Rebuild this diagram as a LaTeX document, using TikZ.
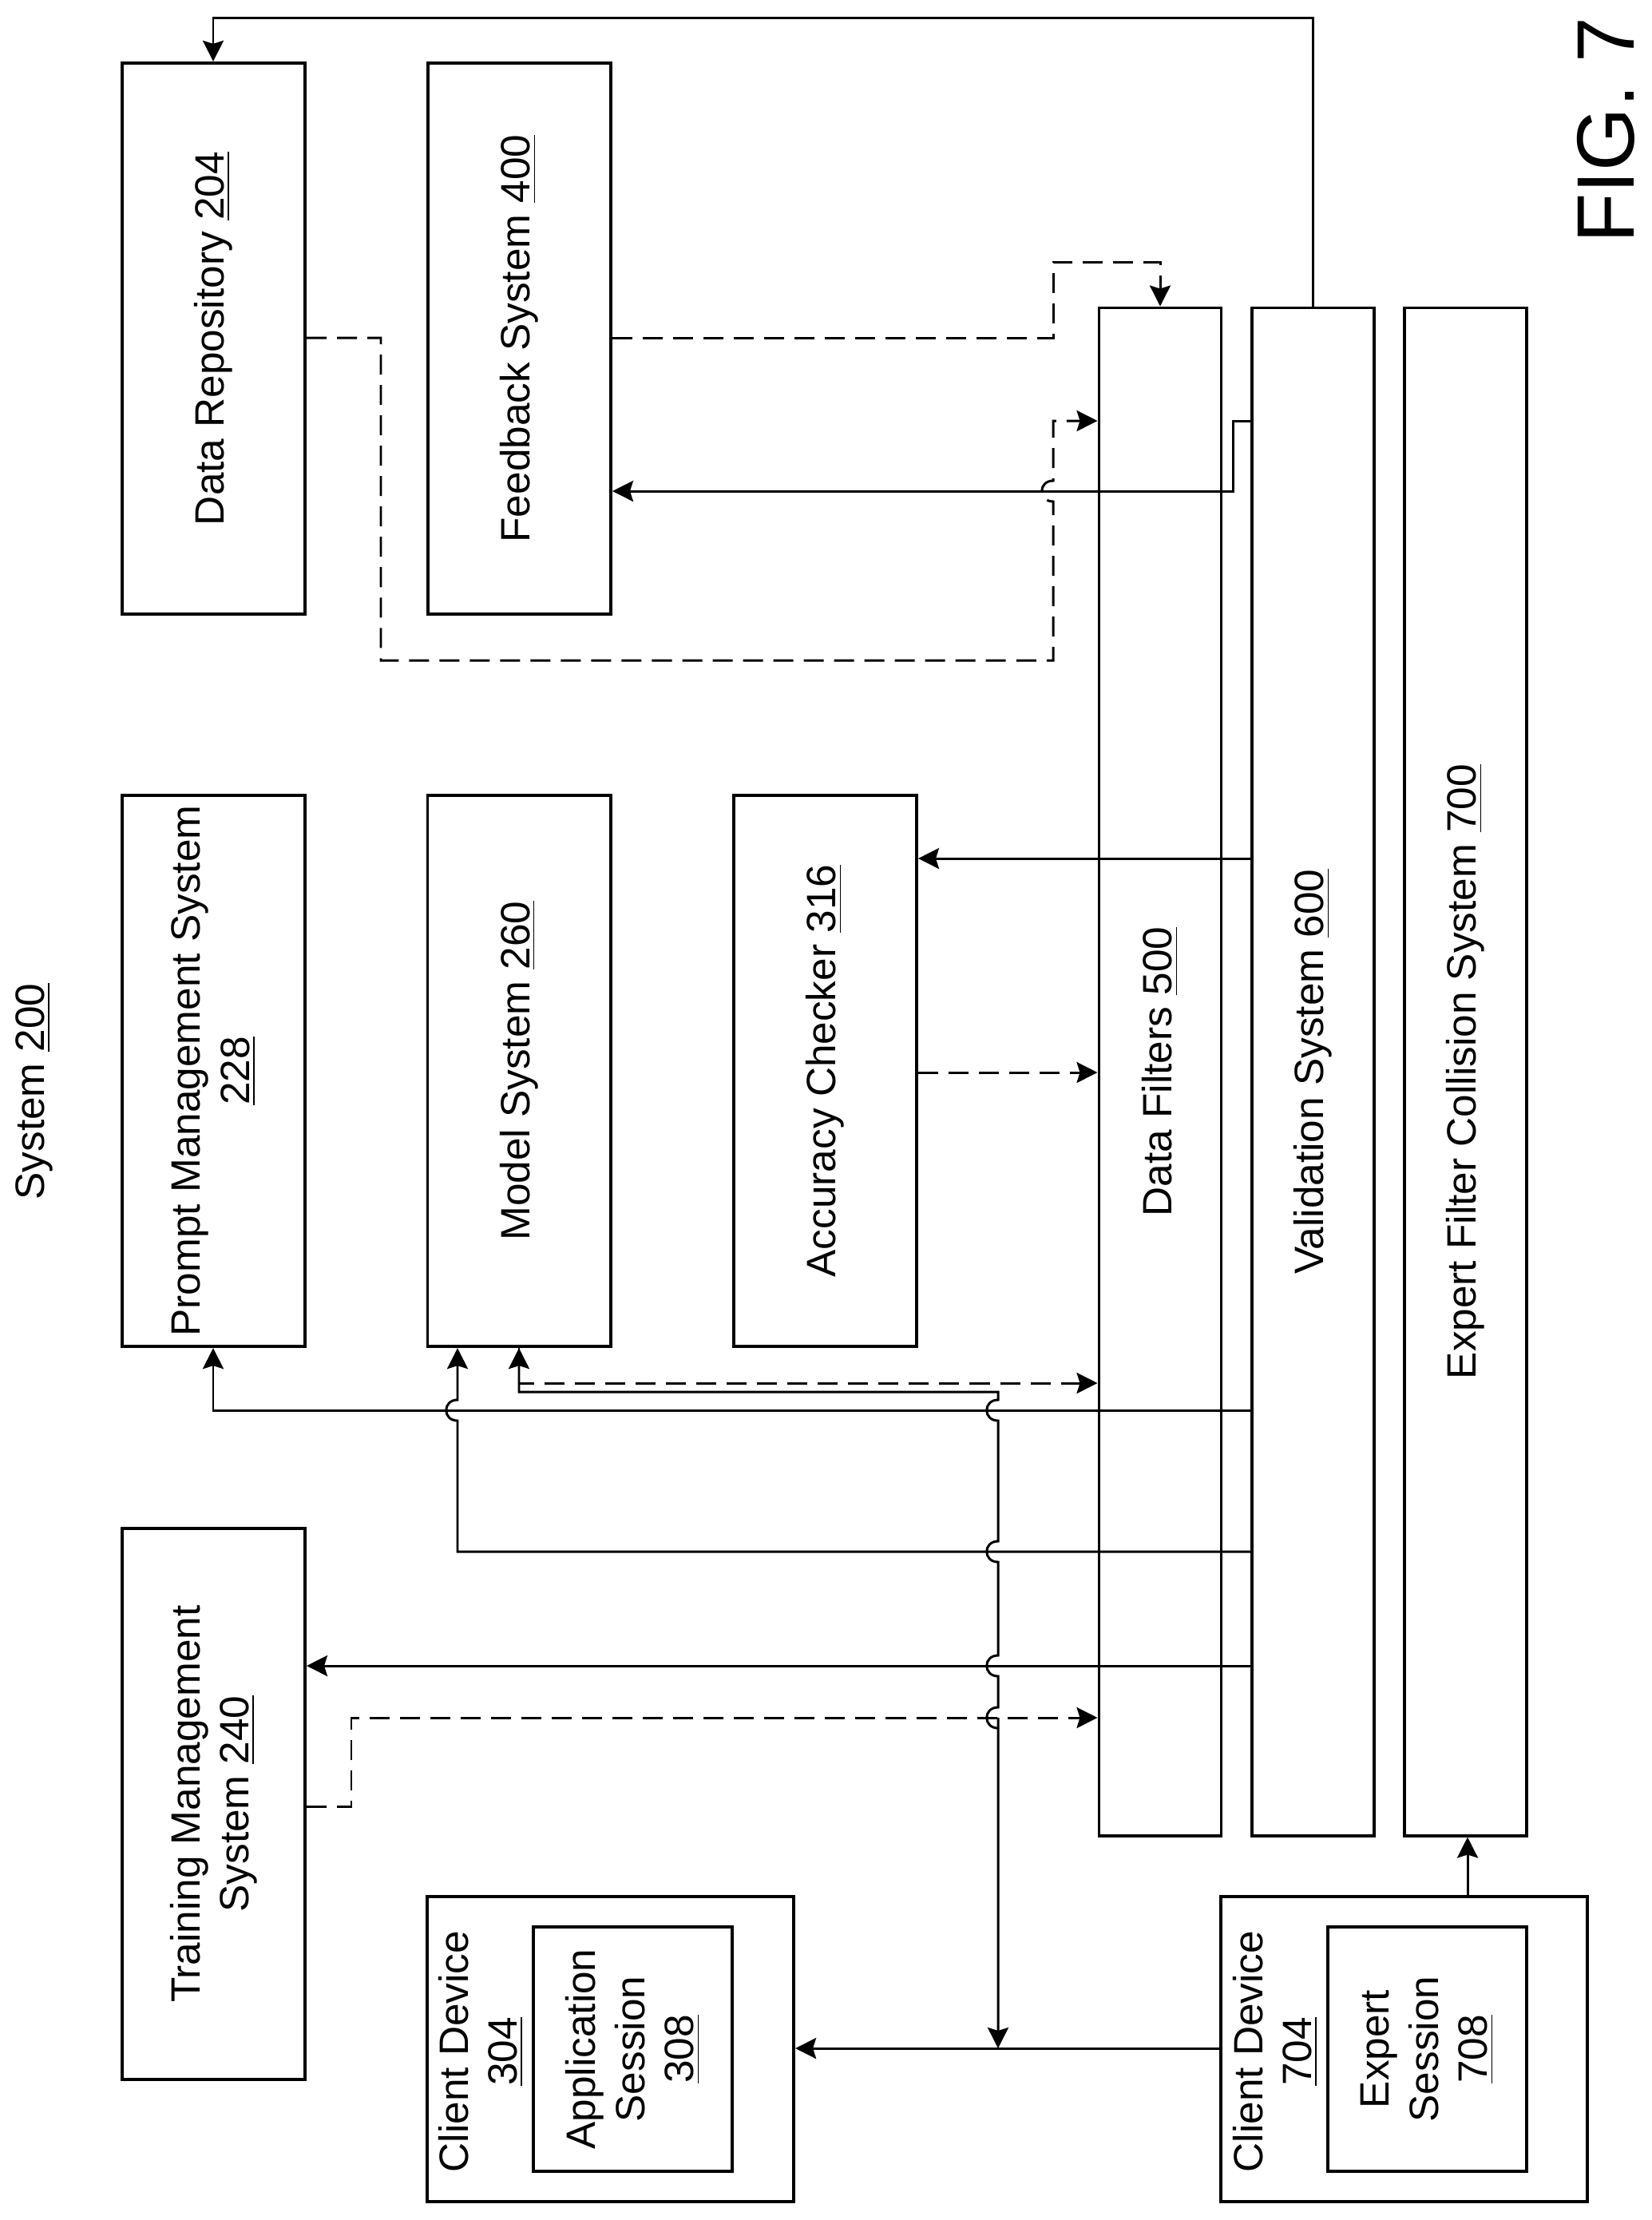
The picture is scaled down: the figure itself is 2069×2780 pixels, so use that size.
\documentclass[tikz,border=0pt]{standalone}
\usepackage{fontspec}
\setmainfont{Liberation Sans}
\usetikzlibrary{arrows.meta}

% hop of a vertical line over a horizontal one
\newcommand{\hop}[2]{-- (#1,#2+13) .. controls (#1-19,#2+13) and (#1-19,#2-13) .. (#1,#2-13)}

\begin{document}
\begin{tikzpicture}[
        x=0.01cm, y=-0.01cm,
        every node/.style={font=\fontsize{14.6}{17.5}\selectfont, align=center, inner sep=0pt},
        box/.style={rectangle, draw, line width=1.1pt, rotate=90},
        widebox/.style={box, minimum width=6.90cm, minimum height=2.29cm},
        tallbox/.style={box, minimum width=19.12cm, minimum height=1.53cm},
        devbox/.style={box, minimum width=3.82cm, minimum height=4.59cm},
        sessbox/.style={box, minimum width=3.06cm, minimum height=2.49cm},
        txt/.style={rotate=90},
        arrow/.style={->, >={Stealth[length=2.6mm,width=2.6mm,inset=0.4mm]}, line width=0.85pt},
        dasharrow/.style={arrow, dash pattern=on 2.5mm off 1.3mm}
    ]
    \useasboundingbox (0,0) rectangle (2069,2780);

% Top row
    \node[widebox] (repo) at (267.5,424) {Data Repository \underline{204}};
    \node[widebox] (feedback) at (650.5,424) {Feedback System \underline{400}};

% Middle row
    \node[widebox] (prompt) at (267.5,1341) {Prompt Management System\\\underline{228}};
    \node[widebox] (model) at (650,1341) {Model System \underline{260}};
    \node[widebox] (accuracy) at (1033.5,1341) {Accuracy Checker \underline{316}};

% Bottom row
    \node[widebox] (training) at (267.5,2259) {Training Management\\System \underline{240}};
    \node[devbox] (client) at (764.5,2566) {};
    \node[sessbox] (appsess) at (792.5,2566) {Application\\Session\\\underline{308}};
    \node[devbox] (expert) at (1758.5,2566) {};
    \node[sessbox] (expsess) at (1787.5,2566) {Expert\\Session\\\underline{708}};

% Long bars
    \node[tallbox] (filters) at (1453,1342) {Data Filters \underline{500}};
    \node[tallbox] (validation) at (1644.5,1342) {Validation System \underline{600}};
    \node[tallbox] (collision) at (1835.5,1342) {Expert Filter Collision System \underline{700}};

% Labels
    \node[txt] (syslabel) at (43,1367) {System \underline{200}};
    \node[txt] (clientlabel) at (602,2569) {Client Device\\\underline{304}};
    \node[txt] (expertlabel) at (1597,2569) {Client Device\\\underline{704}};
    \node[txt, font=\fontsize{29}{31}\selectfont] (figlabel) at (2011,163) {FIG. 7};

% Corner point of the client line
    \coordinate (split) at (1250,2565);

% Solid arrows
    \draw[arrow] (validation.east -| 1644,0) -- (1644,22) -- (267,22) -- (repo.east -| 267,0);
    \draw[arrow] (validation.north |- 0,527) -- (1544,527) -- (1544,615) -- (feedback.south |- 0,615);
    \draw[arrow] (validation.north |- 0,1075) -- (accuracy.south |- 0,1075);
    \draw[arrow] (validation.north |- 0,1766) -- (267,1766) -- (prompt.west -| 267,0);
    \draw[arrow] (validation.north |- 0,1943) -- (573,1943) \hop{573}{1766} -- (model.west -| 573,0);
    \draw[arrow] (validation.north |- 0,2086) -- (training.south |- 0,2086);
    \draw[arrow] (expert.north |- split) -- (client.south |- split);
    \draw[arrow] (expert.east -| 1838,0) -- (collision.west -| 1838,0);

% Bus from the client devices up to the model system
    \draw[arrow, <->] (split) -- (1250,2151) \hop{1250}{2151} \hop{1250}{2086}
        \hop{1250}{1943} \hop{1250}{1766} -- (1250,1743) -- (650,1743) -- (model.west -| 650,0);

% Dashed arrows
    \draw[dasharrow] (feedback.south |- 0,423) -- (1319,423) -- (1319,328) -- (1453,328) -- (filters.east -| 1453,0);
    \draw[dasharrow] (repo.south |- 0,423) -- (477,423) -- (477,827) -- (1319,827)
        \hop{1319}{615} -- (1319,527) -- (filters.north |- 0,527);
    \draw[dasharrow] (accuracy.south |- 0,1343) -- (filters.north |- 0,1343);
    \draw[dasharrow] (model.west -| 650,0) -- (650,1732) -- (filters.north |- 0,1732);
    \draw[dasharrow] (training.south |- 0,2262) -- (440,2262) -- (440,2151) -- (filters.north |- 0,2151);

\end{tikzpicture}
\end{document}
